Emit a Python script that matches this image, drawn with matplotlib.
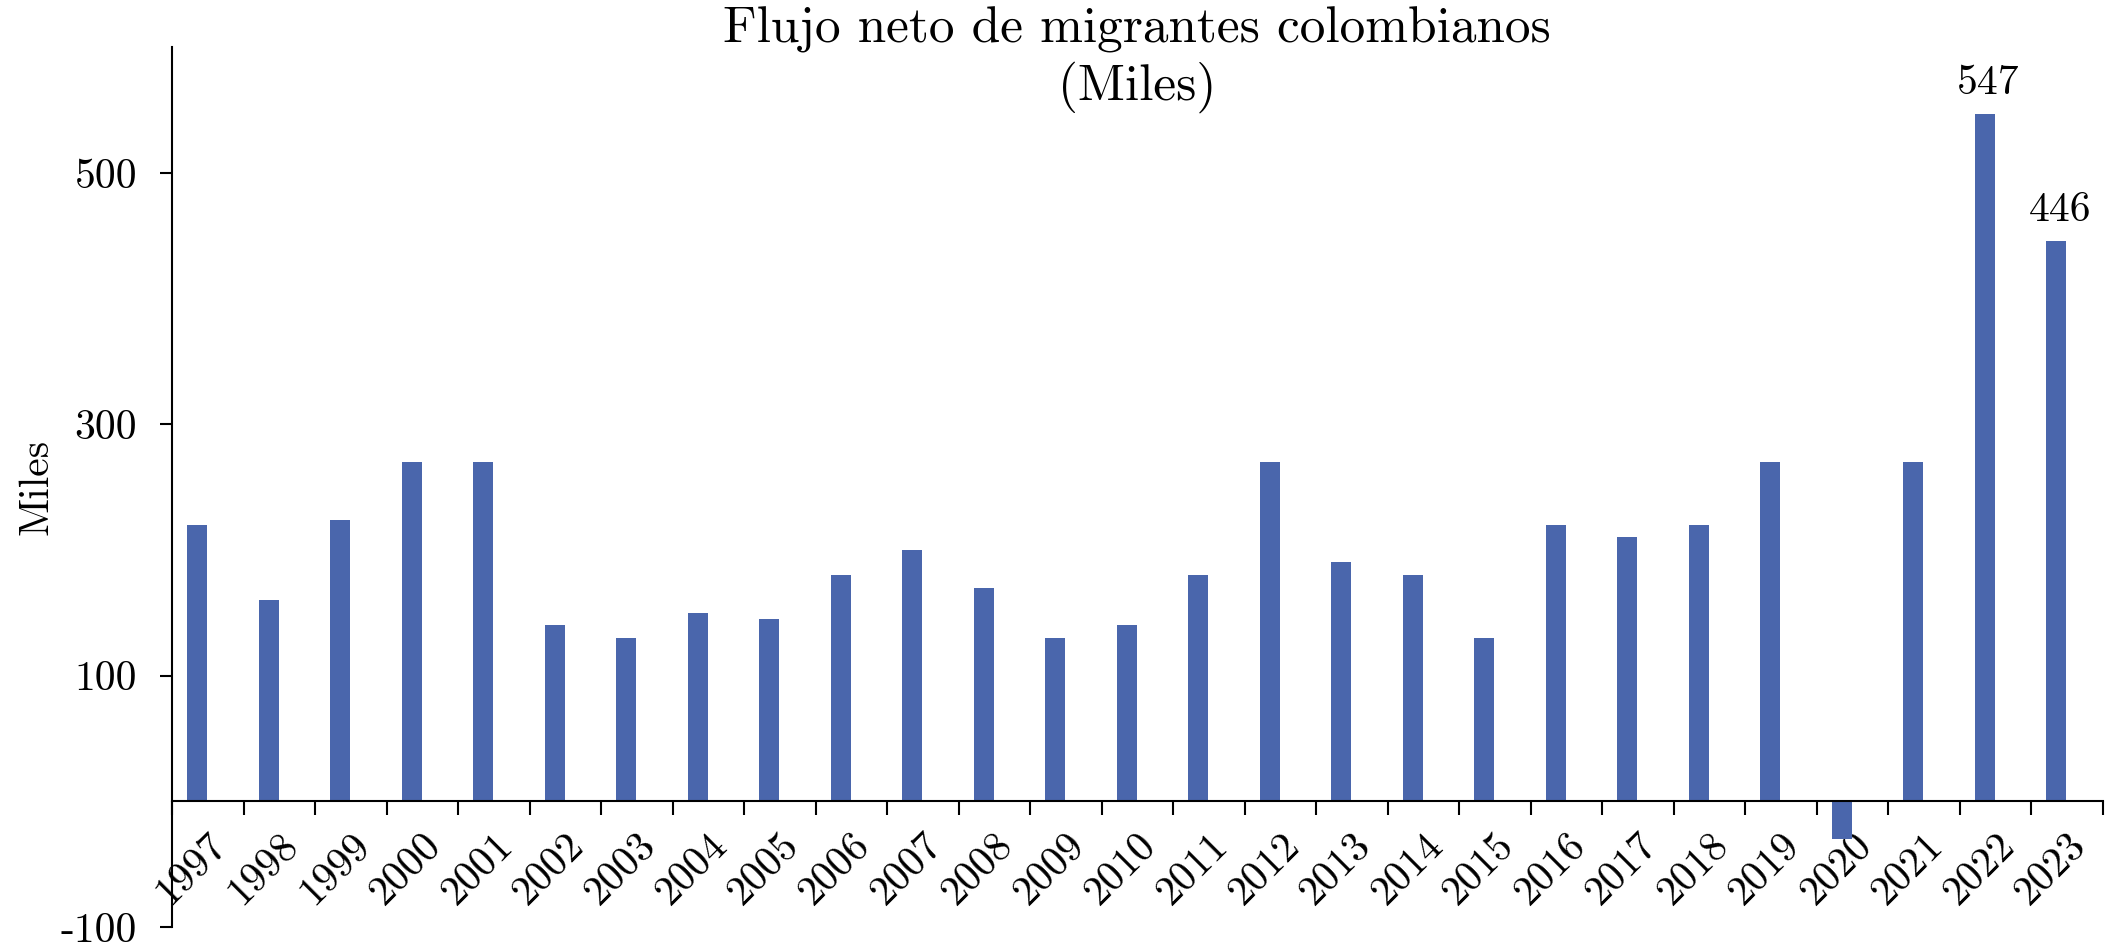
import matplotlib
matplotlib.use("Agg")
import matplotlib.pyplot as plt
import numpy as np

years = [str(y) for y in range(1997, 2024)]
flujo = [220, 160, 224, 270, 270, 140, 130, 150, 145, 180, 200, 170, 130, 140,
         180, 270, 190, 180, 130, 220, 210, 220, 270, -30, 270, 547, 446]
etiquetas = {"2022": 547, "2023": 446}
yticks = [-100, 100, 300, 500]

plt.rcParams['font.family'] = ['cmr10', 'DejaVu Serif']
plt.rcParams['axes.unicode_minus'] = False

fig = plt.figure(figsize=(21.08, 9.42), dpi=100)
ax = fig.add_axes([0.0816, 0.016, 0.916, 0.934])

x = np.arange(len(years))
ax.bar(x - 0.15, flujo, width=0.28, color='#4a66ac', zorder=2)

for yr, v in etiquetas.items():
    i = years.index(yr)
    ax.annotate(str(v), (i - 0.1, v), xytext=(0, 14), textcoords='offset points',
                ha='center', va='baseline', fontsize=30)

ax.set_xlim(-0.5, len(years) - 0.5)
ax.set_ylim(-100, 600)

ax.spines['top'].set_visible(False)
ax.spines['right'].set_visible(False)
ax.spines['bottom'].set_position(('data', 0))
ax.spines['left'].set_linewidth(1.5)
ax.spines['bottom'].set_linewidth(1.5)

# ticks at category boundaries, labels at centers
ax.set_xticks(np.arange(len(years) + 1) - 0.5)
ax.set_xticklabels([])
ax.tick_params(axis='x', which='major', direction='out', length=10, width=1.5)
ax.set_xticks(x, minor=True)
ax.set_xticklabels(years, minor=True, rotation=45, ha='right', va='top',
                   rotation_mode='anchor', fontsize=30)
ax.tick_params(axis='x', which='minor', length=0, pad=18)

ax.set_yticks(yticks)
ax.set_yticklabels([str(t) for t in yticks], fontsize=30)
ax.tick_params(axis='y', direction='out', length=9, width=1.5, pad=16)

ax.set_ylabel('Miles', fontsize=30, labelpad=4)
fig.text(0.5395, 0.993, 'Flujo neto de migrantes colombianos\n(Miles)',
         ha='center', va='top', fontsize=37, linespacing=1.22)

fig.savefig('out.png', dpi=100)
